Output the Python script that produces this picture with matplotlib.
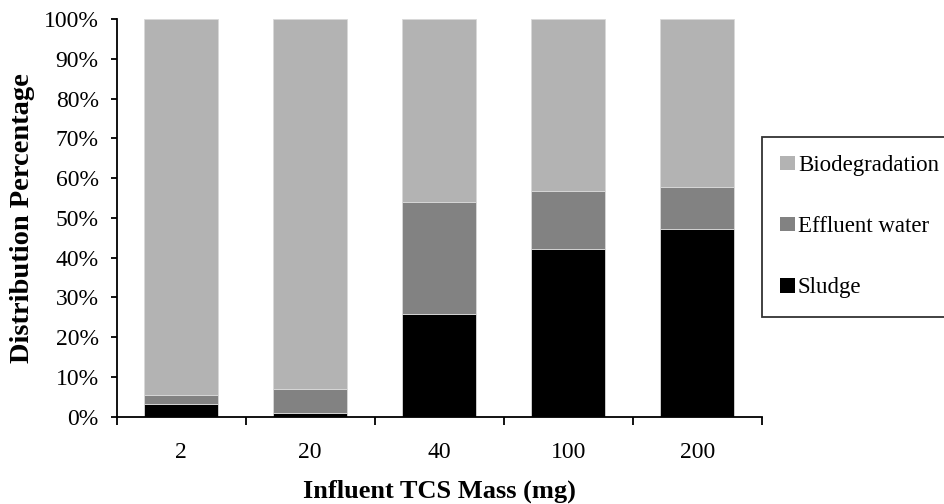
import numpy as np
import matplotlib
matplotlib.use("Agg")
import matplotlib.pyplot as plt
from matplotlib.ticker import FixedLocator, PercentFormatter

# -------------------------------------------------
# data (percent)
# -------------------------------------------------
masses = ["2", "20", "40", "100", "200"]
sludge = [3.3, 1.0, 25.7, 42.2, 47.3]
effluent = [2.1, 6.0, 28.2, 14.6, 10.4]
biodegradation = [100 - s - e for s, e in zip(sludge, effluent)]

colors = {"Sludge": "#000000", "Effluent water": "#828282", "Biodegradation": "#b3b3b3"}

plt.rcParams["font.family"] = ["Liberation Serif", "DejaVu Serif"]

fig = plt.figure(figsize=(9.45, 5.04), dpi=100)
ax = fig.add_axes([116.7 / 945, 87.3 / 504, 645 / 945, 397.7 / 504])

x = np.arange(len(masses))
w = 0.57
ax.bar(x, sludge, w, color=colors["Sludge"], edgecolor="#d9d9d9", linewidth=0.6, label="Sludge")
ax.bar(x, effluent, w, bottom=sludge, color=colors["Effluent water"],
       edgecolor="#d9d9d9", linewidth=0.6, label="Effluent water")
bottom2 = [s + e for s, e in zip(sludge, effluent)]
ax.bar(x, biodegradation, w, bottom=bottom2, color=colors["Biodegradation"],
       edgecolor="#d9d9d9", linewidth=0.6, label="Biodegradation")

ax.set_xlim(-0.5, len(masses) - 0.5)
ax.set_ylim(0, 100)

# axes look
for s in ["top", "right"]:
    ax.spines[s].set_visible(False)
for s in ["left", "bottom"]:
    ax.spines[s].set_linewidth(1.3)

ax.set_yticks(np.arange(0, 101, 10))
ax.yaxis.set_major_formatter(PercentFormatter(decimals=0))
ax.tick_params(axis="y", direction="out", length=4, width=1.3, pad=9, labelsize=17)

ax.set_xticks(x)
ax.set_xticklabels(masses)
ax.xaxis.set_minor_locator(FixedLocator(np.arange(-0.5, len(masses), 1)))
ax.tick_params(axis="x", which="major", length=0, pad=18, labelsize=17)
ax.tick_params(axis="x", which="minor", direction="out", length=6, width=1.3)

ax.set_xlabel("Influent TCS Mass (mg)", fontsize=19, fontweight="bold", labelpad=12)
ax.set_ylabel("Distribution Percentage", fontsize=20.5, fontweight="bold", labelpad=6)

# legend, biodegradation on top
h, l = ax.get_legend_handles_labels()
leg = fig.legend(h[::-1], l[::-1], loc="upper left",
                 bbox_to_anchor=(762 / 945, 1 - 136.7 / 504),
                 fontsize=16.5, frameon=True, fancybox=False,
                 handlelength=0.62, handleheight=0.62, handletextpad=0.15,
                 labelspacing=1.75, borderpad=0.8, borderaxespad=0)
leg.get_frame().set_edgecolor("black")
leg.get_frame().set_linewidth(1.3)
for p in leg.get_patches():
    p.set_edgecolor("none")

plt.savefig("out.png", dpi=100)
plt.close()
